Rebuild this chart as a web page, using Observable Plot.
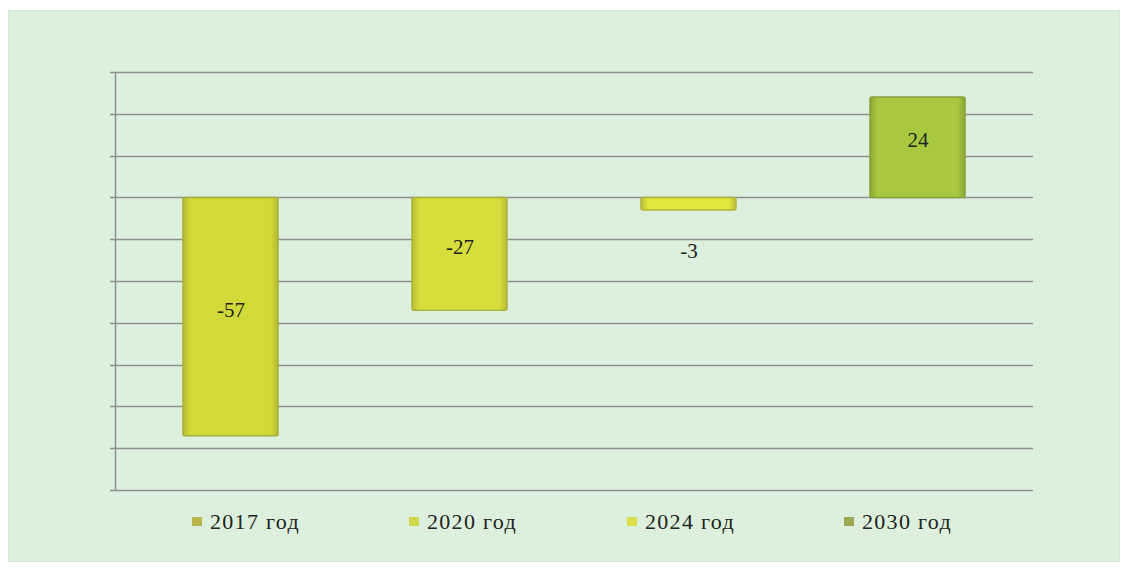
<!DOCTYPE html>
<html>
<head>
<meta charset="utf-8">
<script src="https://cdn.jsdelivr.net/npm/d3@7"></script>
<script src="https://cdn.jsdelivr.net/npm/@observablehq/plot@0.6"></script>
<style>
  html, body { margin: 0; padding: 0; background: #ffffff; }
  #wrap { position: relative; width: 1126px; height: 572px; overflow: hidden; }
  #panel { position: absolute; left: 8px; top: 10px; width: 1110px; height: 550px;
           background: #ddf0dd; border: 1px solid #d6e8d6; }
  #chart { position: absolute; left: 0; top: 0; }
  #legend { position: absolute; left: 0; top: 508px; width: 1126px; height: 30px;
            font-family: "Liberation Serif", "Times New Roman", serif; font-size: 22px; color: #222;
            letter-spacing: 1.3px; }
  .item { position: absolute; top: 0; height: 28px; white-space: nowrap; }
  .sw { position: absolute; left: 0; top: 9px; width: 10px; height: 9px; }
  .lt { position: absolute; left: 18px; top: 0; line-height: 28px; }
</style>
</head>
<body>
<div id="wrap">
  <div id="panel"></div>
  <div id="chart"></div>
  <div id="legend"></div>
</div>
<script>
const categories = ["2017 год", "2020 год", "2024 год", "2030 год"];
const values = [-57, -27, -3, 24];
const colors = ["#d2da3a", "#d6de3c", "#e2e83a", "#a8c840"];
const edgeColors = ["#b3ba34", "#b6bd36", "#b9be3a", "#8aa636"];
const strokes = ["#a8ae3a", "#aab23a", "#b0b43c", "#86a038"];
const legendSwatches = ["#b8b64c", "#d2d64a", "#dcde4c", "#9ca852"];
const gridTicks = [30, 20, 10, 0, -10, -20, -30, -40, -50, -60, -70];

const data = categories.map((c, i) => ({
  cat: c, value: values[i], gid: "url(#g" + i + ")", stroke: strokes[i],
  labelY: Math.abs(values[i]) < 10 ? values[i] - 11.5 : values[i] / 2
}));

const plot = Plot.plot({
  width: 1126,
  height: 500,
  marginLeft: 115,
  marginRight: 93,
  marginTop: 72,
  marginBottom: 10,
  style: { background: "transparent", fontFamily: "Liberation Serif, serif" },
  x: { domain: categories, paddingInner: 0.586, paddingOuter: 0.293, axis: null },
  y: { domain: [-70, 30], axis: null },
  marks: [
    Plot.barY(data, {
      x: "cat", y1: 0, y2: "value",
      fill: "gid", stroke: "stroke", strokeWidth: 1.5, rx: 2
    }),
    Plot.text(data, {
      x: "cat", y: "labelY", text: d => String(d.value),
      fontSize: 21, fill: "#222", dy: -7, fontFamily: "Liberation Serif, serif"
    })
  ]
});

const svg = d3.select(plot);
// gradients for bevel-like bars
const defs = svg.insert("defs", ":first-child");
colors.forEach((c, i) => {
  const lg = defs.append("linearGradient").attr("id", "g" + i)
    .attr("x1", 0).attr("x2", 1).attr("y1", 0).attr("y2", 0);
  lg.append("stop").attr("offset", "0%").attr("stop-color", edgeColors[i]);
  lg.append("stop").attr("offset", "8%").attr("stop-color", c);
  lg.append("stop").attr("offset", "92%").attr("stop-color", c);
  lg.append("stop").attr("offset", "100%").attr("stop-color", edgeColors[i]);
});

// gridlines, left axis with small ticks, drawn from the y scale
const yS = plot.scale("y");
const left = 115, right = 1126 - 93;
const g = svg.insert("g", "defs + *");
gridTicks.forEach(t => {
  const y = Math.round(yS.apply(t)) + 0.5;
  g.append("line").attr("x1", left - 5).attr("x2", right).attr("y1", y).attr("y2", y)
    .attr("stroke", "#8e8e8e").attr("stroke-width", 1.5);
});
g.append("line").attr("x1", left + 0.5).attr("x2", left + 0.5)
  .attr("y1", Math.round(yS.apply(30))).attr("y2", Math.round(yS.apply(-70)) + 1)
  .attr("stroke", "#8e8e8e").attr("stroke-width", 1.5);

document.getElementById("chart").appendChild(plot);

// Legend
const legend = document.getElementById("legend");
const legendX = [192, 409, 627, 844];
categories.forEach((c, i) => {
  const it = document.createElement("div");
  it.className = "item";
  it.style.left = legendX[i] + "px";
  const sw = document.createElement("div");
  sw.className = "sw";
  sw.style.background = legendSwatches[i];
  it.appendChild(sw);
  const t = document.createElement("span");
  t.className = "lt";
  t.textContent = c;
  it.appendChild(t);
  legend.appendChild(it);
});
</script>
</body>
</html>
